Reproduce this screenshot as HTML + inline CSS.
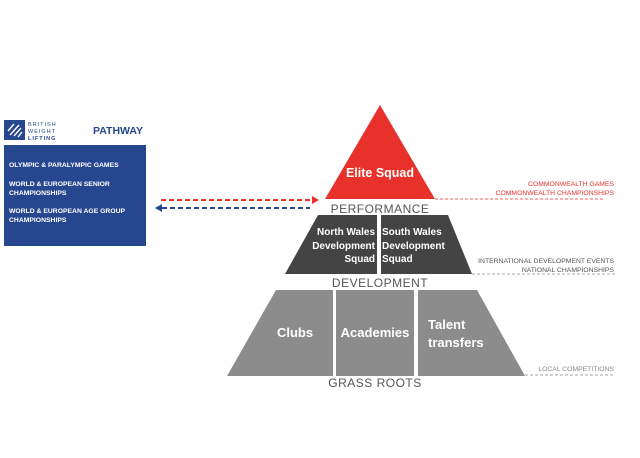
<!DOCTYPE html>
<html><head><style>
body{margin:0;width:640px;height:453px;background:#fff;overflow:hidden;font-family:"Liberation Sans",sans-serif}
</style></head><body>
<svg width="640" height="453" xmlns="http://www.w3.org/2000/svg" font-family="Liberation Sans, sans-serif">
<rect x="4" y="120" width="21" height="20" fill="#26478f"/>
<path d="M8 131 L14 124 M10 135 L19 125 M14 136 L21 128 M18 137 L22 132" stroke="#fff" stroke-width="1.4"/>
<text x="28" y="126" font-size="5.5" fill="#26478f" letter-spacing="1">BRITISH</text>
<text x="28" y="133" font-size="5.5" fill="#26478f" letter-spacing="1">WEIGHT</text>
<text x="28" y="140" font-size="5.5" fill="#26478f" font-weight="bold" letter-spacing="1">LIFTING</text>
<text x="93" y="134" font-size="10.5" font-weight="bold" fill="#26478f">PATHWAY</text>
<rect x="4" y="145" width="142" height="101" fill="#26478f"/>
<g fill="#fff" font-size="6.8" font-weight="bold">
<text x="9" y="167">OLYMPIC  &amp; PARALYMPIC GAMES</text>
<text x="9" y="186">WORLD  &amp; EUROPEAN SENIOR</text>
<text x="9" y="195">CHAMPIONSHIPS</text>
<text x="9" y="213">WORLD &amp; EUROPEAN AGE GROUP</text>
<text x="9" y="222">CHAMPIONSHIPS</text>
</g>
<line x1="161" y1="200" x2="312" y2="200" stroke="#e8312b" stroke-width="2" stroke-dasharray="5,3"/>
<path d="M312 196 L319 200 L312 204Z" fill="#e8312b"/>
<line x1="162" y1="208" x2="310" y2="208" stroke="#26478f" stroke-width="2" stroke-dasharray="5,3"/>
<path d="M162 204 L155 208 L162 212Z" fill="#26478f"/>
<path d="M380 105 L435 199 L325 199Z" fill="#e8312b"/>
<text x="380" y="177" font-size="12.5" font-weight="bold" fill="#fff" text-anchor="middle">Elite Squad</text>
<text x="380" y="213" font-size="12" fill="#555" text-anchor="middle" letter-spacing="0.5">PERFORMANCE</text>
<path d="M318 215 L377 215 L377 274 L285 274Z" fill="#444"/>
<path d="M381 215 L448 215 L472 274 L381 274Z" fill="#444"/>
<g font-size="10" font-weight="bold" fill="#fff">
<text x="375" y="235" text-anchor="end">North Wales</text>
<text x="375" y="249" text-anchor="end">Development</text>
<text x="375" y="262" text-anchor="end">Squad</text>
<text x="382" y="235">South Wales</text>
<text x="382" y="249">Development</text>
<text x="382" y="262">Squad</text>
</g>
<text x="380" y="287" font-size="12" fill="#555" text-anchor="middle" letter-spacing="0.5">DEVELOPMENT</text>
<path d="M276 290 L333 290 L333 376 L227 376Z" fill="#8c8c8c"/>
<rect x="336" y="290" width="78" height="86" fill="#8c8c8c"/>
<path d="M418 290 L477 290 L525 376 L418 376Z" fill="#8c8c8c"/>
<g font-size="13" font-weight="bold" fill="#fff">
<text x="295" y="337" text-anchor="middle">Clubs</text>
<text x="375" y="337" text-anchor="middle">Academies</text>
<text x="428" y="329">Talent</text>
<text x="428" y="347">transfers</text>
</g>
<text x="375" y="387" font-size="12" fill="#555" text-anchor="middle" letter-spacing="0.5">GRASS ROOTS</text>
<line x1="435" y1="199" x2="605" y2="199" stroke="#e8312b" stroke-width="0.8" stroke-dasharray="3,2"/>
<text x="614" y="186" font-size="6.8" fill="#e8312b" text-anchor="end">COMMONWEALTH GAMES</text>
<text x="614" y="195" font-size="6.8" fill="#e8312b" text-anchor="end">COMMONWEALTH CHAMPIONSHIPS</text>
<line x1="472" y1="274" x2="615" y2="274" stroke="#888" stroke-width="0.8" stroke-dasharray="3,2"/>
<text x="614" y="263" font-size="6.8" fill="#555" text-anchor="end">INTERNATIONAL DEVELOPMENT EVENTS</text>
<text x="614" y="272" font-size="6.8" fill="#555" text-anchor="end">NATIONAL CHAMPIONSHIPS</text>
<line x1="525" y1="375" x2="615" y2="375" stroke="#888" stroke-width="0.8" stroke-dasharray="3,2"/>
<text x="614" y="371" font-size="6.8" fill="#888" text-anchor="end">LOCAL COMPETITIONS</text>
</svg>
</body></html>
